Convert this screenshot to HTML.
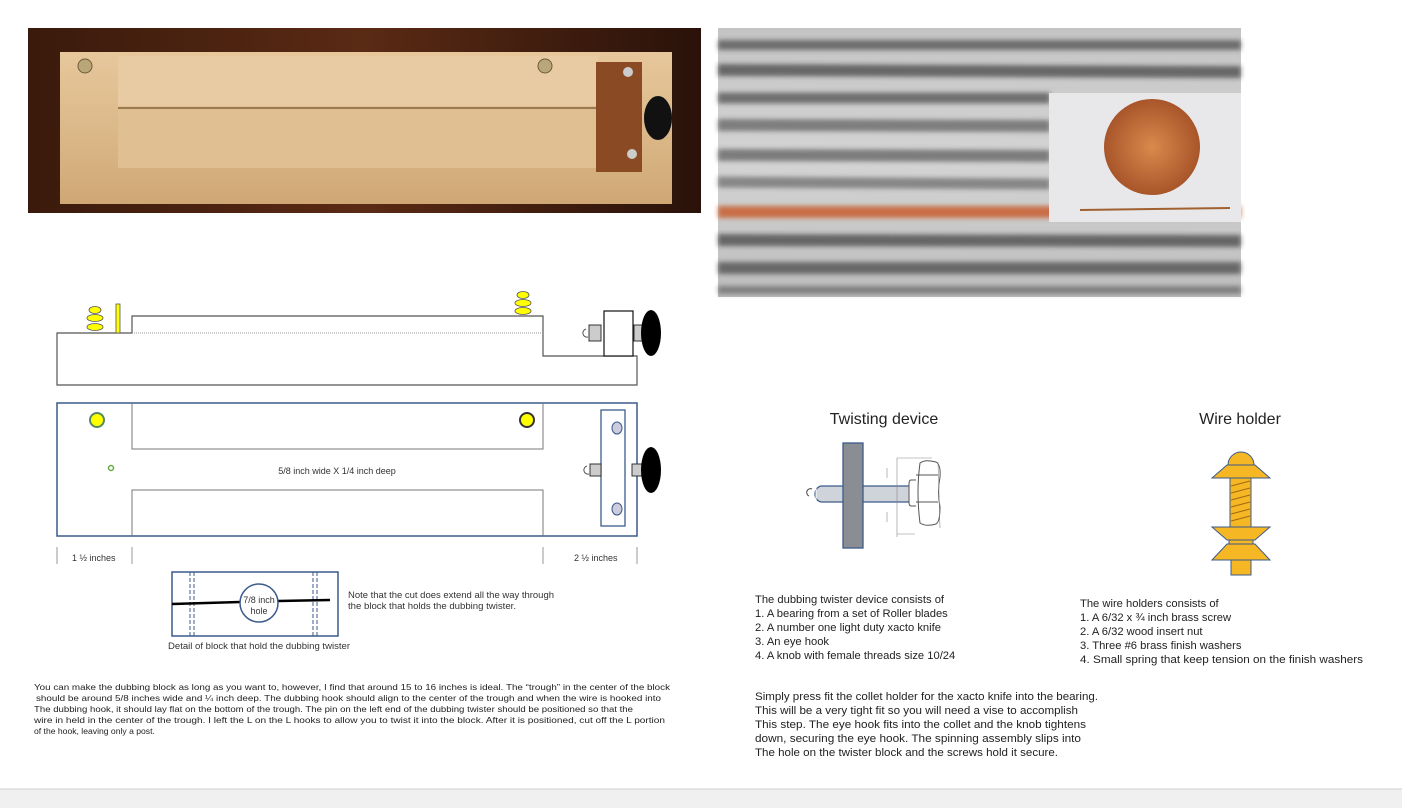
<!DOCTYPE html>
<html><head><meta charset="utf-8"><style>
html,body{margin:0;padding:0;background:#fff;width:1402px;height:808px;overflow:hidden}
svg{display:block}
text{font-family:"Liberation Sans",sans-serif}
</style></head><body>
<svg width="1402" height="808" viewBox="0 0 1402 808" xmlns="http://www.w3.org/2000/svg">
<defs>
<linearGradient id="wood" x1="0" y1="0" x2="0" y2="1">
<stop offset="0" stop-color="#e6c79b"/><stop offset="0.5" stop-color="#dcb98a"/><stop offset="1" stop-color="#cfa775"/></linearGradient>
<linearGradient id="bg1" x1="0" y1="0" x2="1" y2="0">
<stop offset="0" stop-color="#3a1a0c"/><stop offset="0.5" stop-color="#5a2a14"/><stop offset="1" stop-color="#2a120a"/></linearGradient>
<linearGradient id="fur" x1="0" y1="0" x2="0" y2="1">
<stop offset="0" stop-color="#c4c4c4"/><stop offset="0.5" stop-color="#d4d4d4"/><stop offset="1" stop-color="#bcbcbc"/></linearGradient>
<radialGradient id="penny" cx="0.5" cy="0.5" r="0.5"><stop offset="0" stop-color="#d98a4c"/><stop offset="1" stop-color="#a8552a"/></radialGradient>
<filter id="blur" x="-5%" y="-100%" width="110%" height="300%"><feGaussianBlur stdDeviation="2.5"/></filter>
</defs>
<!-- photo 1 -->
<rect x="28" y="28" width="673" height="185" fill="url(#bg1)"/>
<rect x="60" y="52" width="612" height="152" fill="url(#wood)"/>
<rect x="118" y="56" width="480" height="50" fill="#e8cba2"/>
<rect x="118" y="110" width="480" height="58" fill="#e0bf92"/>
<line x1="118" y1="108" x2="598" y2="108" stroke="#9c7a52" stroke-width="2"/>
<rect x="596" y="62" width="46" height="110" fill="#8a4a24"/>
<ellipse cx="658" cy="118" rx="14" ry="22" fill="#111"/>
<circle cx="85" cy="66" r="7" fill="#b9a77a" stroke="#6b5a3a"/>
<circle cx="545" cy="66" r="7" fill="#b9a77a" stroke="#6b5a3a"/>
<circle cx="628" cy="72" r="5" fill="#ccc"/><circle cx="632" cy="154" r="5" fill="#ccc"/>
<!-- photo 2 -->
<rect x="718" y="28" width="523" height="269" fill="url(#fur)"/>
<g filter="url(#blur)">
<line x1="718" y1="45" x2="1241" y2="45" stroke="#333" stroke-width="10" opacity="0.6"/>
<line x1="718" y1="70" x2="1241" y2="72" stroke="#2a2a2a" stroke-width="12" opacity="0.6"/>
<line x1="718" y1="98" x2="1050" y2="98" stroke="#333" stroke-width="11" opacity="0.6"/>
<line x1="718" y1="125" x2="1050" y2="126" stroke="#3a3a3a" stroke-width="12" opacity="0.55"/>
<line x1="718" y1="155" x2="1050" y2="156" stroke="#333" stroke-width="12" opacity="0.55"/>
<line x1="718" y1="182" x2="1050" y2="184" stroke="#3c3c3c" stroke-width="11" opacity="0.5"/>
<line x1="718" y1="212" x2="1241" y2="212" stroke="#c8501c" stroke-width="12" opacity="0.75"/>
<line x1="718" y1="240" x2="1241" y2="241" stroke="#2a2a2a" stroke-width="12" opacity="0.6"/>
<line x1="718" y1="268" x2="1241" y2="268" stroke="#2e2e2e" stroke-width="12" opacity="0.6"/>
<line x1="718" y1="290" x2="1241" y2="290" stroke="#444" stroke-width="8" opacity="0.5"/>
</g>
<rect x="1049" y="93" width="192" height="129" fill="#e8e8ea"/>
<circle cx="1152" cy="147" r="48" fill="url(#penny)"/>
<line x1="1080" y1="210" x2="1230" y2="208" stroke="#a06030" stroke-width="2"/>
<!-- side view -->
<path d="M57 333 H132 V316 H543 V356 H637 V385 H57 Z" fill="#fff" stroke="#555" stroke-width="1.2"/>
<line x1="132" y1="333" x2="543" y2="333" stroke="#999" stroke-dasharray="1 1"/>
<rect x="116" y="304" width="4" height="29" fill="#ff0" stroke="#555" stroke-width="0.8"/>
<g fill="#ff0" stroke="#555" stroke-width="0.8">
<ellipse cx="95" cy="310" rx="6" ry="3.5"/><ellipse cx="95" cy="318" rx="8" ry="3.5"/><ellipse cx="95" cy="327" rx="8" ry="3.5"/>
<ellipse cx="523" cy="295" rx="6" ry="3.5"/><ellipse cx="523" cy="303" rx="8" ry="3.5"/><ellipse cx="523" cy="311" rx="8" ry="3.5"/>
</g>
<rect x="589" y="325" width="12" height="16" fill="#ccc" stroke="#333"/>
<rect x="634" y="325" width="12" height="16" fill="#ccc" stroke="#333"/>
<rect x="604" y="311" width="29" height="45" fill="#fff" stroke="#111" stroke-width="1.2"/>
<ellipse cx="651" cy="333" rx="10" ry="23" fill="#000"/>
<path d="M586 329 a4 4 0 1 0 2 8" fill="none" stroke="#555"/>
<!-- top view -->
<rect x="57" y="403" width="580" height="133" fill="#fff" stroke="#3c5a8c" stroke-width="1.5"/>
<path d="M132 403 V449 H543 V403" fill="none" stroke="#777" stroke-width="1"/>
<path d="M132 536 V490 H543 V536" fill="none" stroke="#777" stroke-width="1"/>
<circle cx="97" cy="420" r="7" fill="#ff0" stroke="#586" stroke-width="2"/>
<circle cx="527" cy="420" r="7" fill="#ff0" stroke="#333" stroke-width="2"/>
<circle cx="111" cy="468" r="2.5" fill="#fff" stroke="#6a4" stroke-width="1.5"/>
<text x="337" y="474" font-size="9" text-anchor="middle" fill="#333">5/8 inch wide X 1/4 inch deep</text>
<rect x="601" y="410" width="24" height="116" fill="#fff" stroke="#3c5a8c" stroke-width="1.3"/>
<ellipse cx="617" cy="428" rx="5" ry="6" fill="#ccd" stroke="#3c5a8c"/>
<ellipse cx="617" cy="509" rx="5" ry="6" fill="#ccd" stroke="#3c5a8c"/>
<rect x="590" y="464" width="11" height="12" fill="#ccc" stroke="#333"/>
<rect x="632" y="464" width="10" height="12" fill="#ccc" stroke="#333"/>
<ellipse cx="651" cy="470" rx="10" ry="23" fill="#000"/>
<path d="M587 466 a4 4 0 1 0 2 8" fill="none" stroke="#555"/>
<!-- dimension -->
<g stroke="#999"><line x1="57" y1="547" x2="57" y2="564"/><line x1="132" y1="547" x2="132" y2="564"/><line x1="543" y1="547" x2="543" y2="564"/><line x1="637" y1="547" x2="637" y2="564"/></g>
<text x="72" y="561" font-size="9" fill="#333">1 ½ inches</text>
<text x="574" y="561" font-size="9" fill="#333">2 ½ inches</text>
<!-- detail -->
<rect x="172" y="572" width="166" height="64" fill="#fff" stroke="#3c5a8c" stroke-width="1.5"/>
<g stroke="#3c5a8c" stroke-dasharray="4 2"><line x1="190" y1="572" x2="190" y2="636"/><line x1="194" y1="572" x2="194" y2="636"/><line x1="313" y1="572" x2="313" y2="636"/><line x1="317" y1="572" x2="317" y2="636"/></g>
<line x1="172" y1="604" x2="240" y2="602" stroke="#000" stroke-width="2.5"/>
<line x1="278" y1="601" x2="330" y2="600" stroke="#000" stroke-width="2.5"/>
<circle cx="259" cy="603" r="19" fill="#fff" stroke="#3c5a8c" stroke-width="1.5"/>
<text x="259" y="603" font-size="9" text-anchor="middle" fill="#333">7/8 inch</text>
<text x="259" y="614" font-size="9" text-anchor="middle" fill="#333">hole</text>
<text x="348" y="598" font-size="9" fill="#333" textLength="206" lengthAdjust="spacingAndGlyphs">Note that the cut does extend all the way through</text>
<text x="348" y="609" font-size="9" fill="#333" textLength="168" lengthAdjust="spacingAndGlyphs">the block that holds the dubbing twister.</text>
<text x="168" y="649" font-size="9" fill="#333" textLength="182" lengthAdjust="spacingAndGlyphs">Detail of block that hold the dubbing twister</text>
<!-- paragraph -->
<g font-size="8.6" fill="#222">
<text x="34" y="690" textLength="636" lengthAdjust="spacingAndGlyphs">You can make the dubbing block as long as you want to, however, I find that around 15 to 16 inches is ideal.  The “trough” in the center of the block</text>
<text x="36" y="701" textLength="625" lengthAdjust="spacingAndGlyphs">should be around 5/8 inches wide and ¼ inch deep.  The dubbing hook should align to the center of the trough and when the wire is  hooked  into</text>
<text x="34" y="712" textLength="599" lengthAdjust="spacingAndGlyphs">The dubbing hook, it should lay flat on the bottom of the trough.  The pin on the left end of the dubbing twister should be positioned so that the</text>
<text x="34" y="723" textLength="631" lengthAdjust="spacingAndGlyphs">wire in held in the center of the trough.  I left the L on the L hooks to allow you to twist it into the block.  After it is positioned, cut off the L portion</text>
<text x="34" y="734">of the hook, leaving only a post.</text>
</g>
<!-- twisting device -->
<text x="884" y="424" font-size="16" text-anchor="middle" fill="#222">Twisting device</text>
<path d="M815 494 a7 8 0 0 1 7 -8 H912 V502 H822 a7 8 0 0 1 -7 -8 Z" fill="#cfd3da" stroke="#3c5a8c" stroke-width="1.3"/>
<line x1="816" y1="487" x2="816" y2="501" stroke="#fff"/>
<path d="M812 489 a3 3 0 1 0 -3 7" fill="none" stroke="#444"/>
<rect x="843" y="443" width="20" height="105" fill="#8a8d92" stroke="#3c5a8c" stroke-width="1.3"/>
<g fill="#fff" stroke="#555" stroke-width="1">
<path d="M916 480 h-5 q-2 0 -2 4 v18 q0 4 2 4 h5"/>
<path d="M920 463 q5 -4 16 -1 q5 3 4 15 q-3 15 0 30 q0 15 -4 17 q-10 3 -16 -1 q-4 -31 0 -60z"/>
<line x1="916" y1="475" x2="938" y2="475"/><line x1="916" y1="502" x2="938" y2="502"/>
</g>
<g stroke="#888" stroke-width="0.6" fill="none">
<line x1="897" y1="458" x2="932" y2="458"/><line x1="938" y1="462" x2="940" y2="528"/>
<line x1="897" y1="458" x2="897" y2="537"/><line x1="897" y1="534" x2="915" y2="534"/>
<line x1="887" y1="468" x2="887" y2="478"/><line x1="887" y1="512" x2="887" y2="522"/>
</g>
<!-- wire holder -->
<text x="1240" y="424" font-size="16" text-anchor="middle" fill="#222">Wire holder</text>
<g fill="#f5b724" stroke="#3c5a8c" stroke-width="1">
<path d="M1228 465 a13 13 0 0 1 26 0 Z"/>
<path d="M1227 465 h28 l15 13 h-58 Z"/>
<rect x="1230" y="478" width="21" height="50"/>
<path d="M1212 527 h58 l-15 13 h-28 Z"/>
<rect x="1229" y="540" width="24" height="4"/>
<path d="M1227 544 h28 l15 16 h-58 Z"/>
<rect x="1231" y="560" width="20" height="15"/>
</g>
<g stroke="#a06a10" stroke-width="1"><line x1="1231" y1="486" x2="1250" y2="481"/><line x1="1231" y1="493" x2="1250" y2="488"/><line x1="1231" y1="500" x2="1250" y2="495"/><line x1="1231" y1="507" x2="1250" y2="502"/><line x1="1231" y1="514" x2="1250" y2="509"/><line x1="1231" y1="521" x2="1250" y2="516"/></g>
<!-- right texts -->
<g font-size="11.2" fill="#222">
<text x="755" y="603">The dubbing twister device consists of</text>
<text x="755" y="617">1.  A bearing from a set of Roller blades</text>
<text x="755" y="631">2.  A number one light duty xacto knife</text>
<text x="755" y="645">3.  An eye hook</text>
<text x="755" y="659">4.  A knob with female threads size 10/24</text>
<text x="1080" y="607">The wire holders consists of</text>
<text x="1080" y="621">1.  A 6/32 x ¾ inch brass screw</text>
<text x="1080" y="635">2.  A 6/32 wood  insert nut</text>
<text x="1080" y="649">3.  Three #6 brass finish washers</text>
<text x="1080" y="663" textLength="283" lengthAdjust="spacingAndGlyphs">4.  Small spring that keep tension on the finish washers</text>
<text x="755" y="700" textLength="343" lengthAdjust="spacingAndGlyphs">Simply press fit the collet holder for the xacto knife into the bearing.</text>
<text x="755" y="714" textLength="323" lengthAdjust="spacingAndGlyphs">This will be a very tight fit so you will need a vise to accomplish</text>
<text x="755" y="728" textLength="331" lengthAdjust="spacingAndGlyphs">This step.  The eye hook fits into the collet and the knob tightens</text>
<text x="755" y="742" textLength="326" lengthAdjust="spacingAndGlyphs">down, securing the eye hook.  The spinning assembly slips into</text>
<text x="755" y="756" textLength="303" lengthAdjust="spacingAndGlyphs">The hole on the twister block and the screws hold it secure.</text>
</g>
<!-- bottom bar -->
<rect x="0" y="789" width="1402" height="19" fill="#f0f0f0"/>
<line x1="0" y1="789" x2="1402" y2="789" stroke="#d0d0d0"/>
</svg>
</body></html>
